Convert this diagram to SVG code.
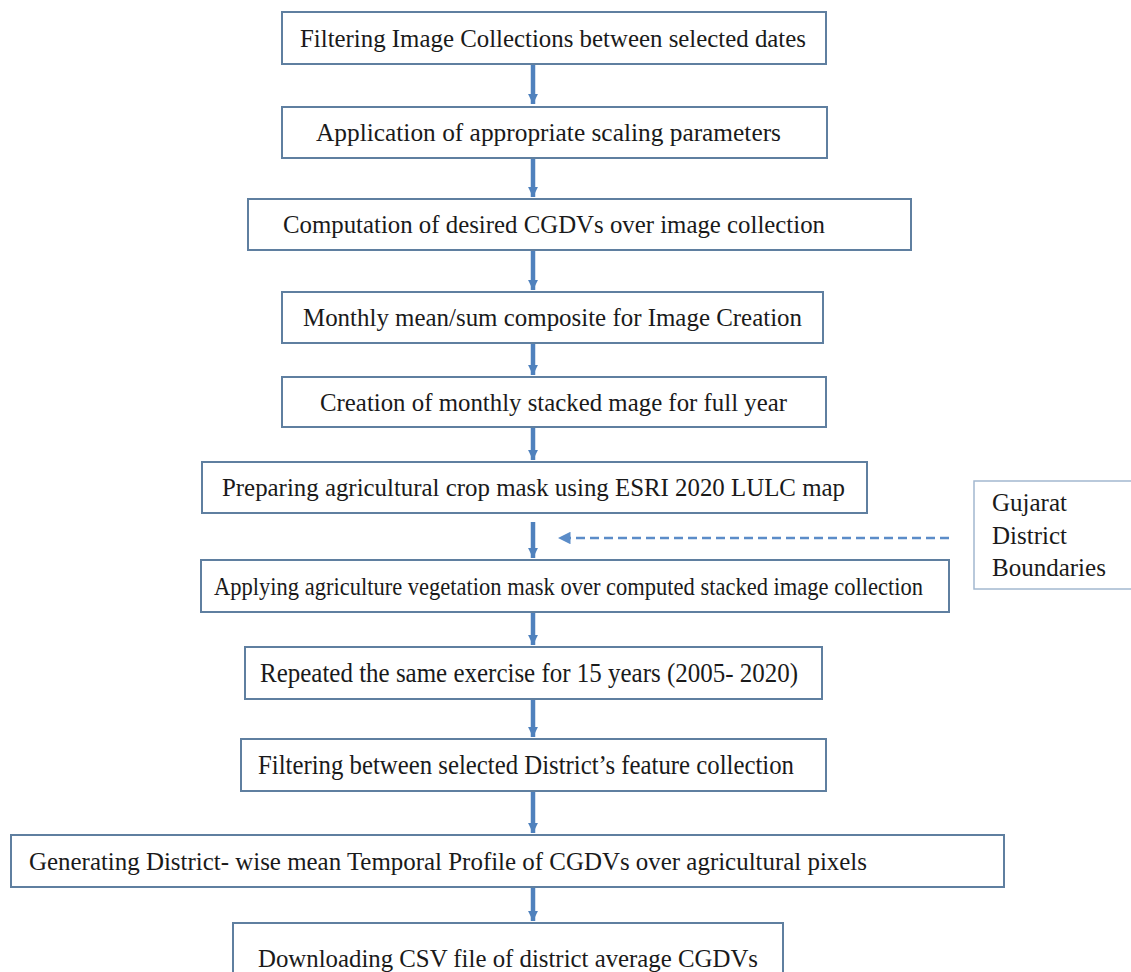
<svg xmlns="http://www.w3.org/2000/svg" width="1131" height="972" viewBox="0 0 1131 972">
<style>
.box{fill:#ffffff;stroke:#5f7fa0;stroke-width:2}
.side{fill:#ffffff;stroke:#a3b8cf;stroke-width:1.5}
.t{font-family:"Liberation Serif","Times New Roman",serif;font-size:25px;fill:#1a1a1a;text-anchor:middle}
.c{font-size:26.5px}
.s{font-family:"Liberation Serif","Times New Roman",serif;font-size:25px;fill:#1a1a1a}
.arr{stroke:#4f81bd;stroke-width:4.5;fill:none;marker-end:url(#ah)}
.dash{stroke:#5b8cc8;stroke-width:2.5;fill:none;stroke-dasharray:9 5;marker-end:url(#dh)}
</style>
<defs>
<marker id="ah" viewBox="0 0 10 10" refX="10" refY="5" markerWidth="2.4" markerHeight="2.2" markerUnits="strokeWidth" orient="auto">
<path d="M0,0 L10,5 L0,10 z" fill="#4f81bd"/>
</marker>
<marker id="dh" viewBox="0 0 10 10" refX="10" refY="5" markerWidth="5" markerHeight="5" markerUnits="strokeWidth" orient="auto">
<path d="M0,0 L10,5 L0,10 z" fill="#5b8cc8"/>
</marker>
</defs>
<rect width="1131" height="972" fill="#ffffff"/>
<g id="connectors">
<line class="arr" x1="533" y1="64" x2="533" y2="104"/>
<line class="arr" x1="533" y1="158" x2="533" y2="197"/>
<line class="arr" x1="533" y1="250" x2="533" y2="290"/>
<line class="arr" x1="533" y1="343" x2="533" y2="375"/>
<line class="arr" x1="533" y1="427" x2="533" y2="460"/>
<line class="arr" x1="533" y1="522" x2="533" y2="558"/>
<line class="arr" x1="533" y1="612" x2="533" y2="645"/>
<line class="arr" x1="533" y1="699" x2="533" y2="737"/>
<line class="arr" x1="533" y1="791" x2="533" y2="833"/>
<line class="arr" x1="533" y1="887" x2="533" y2="921"/>
<line class="dash" x1="949" y1="538" x2="558" y2="538"/>
</g>
<g id="n1"><rect class="box" x="282" y="12" width="544" height="52"/><text class="t" x="553" y="46.5" textLength="506" lengthAdjust="spacingAndGlyphs">Filtering Image Collections between selected dates</text></g>
<g id="n2"><rect class="box" x="282" y="107" width="545" height="51"/><text class="t" x="548.5" y="141" textLength="465" lengthAdjust="spacingAndGlyphs">Application of appropriate scaling parameters</text></g>
<g id="n3"><rect class="box" x="248" y="199" width="663" height="51"/><text class="t" x="554" y="233" textLength="542" lengthAdjust="spacingAndGlyphs">Computation of desired CGDVs over image collection</text></g>
<g id="n4"><rect class="box" x="282" y="292" width="541" height="51"/><text class="t" x="552.5" y="326" textLength="499" lengthAdjust="spacingAndGlyphs">Monthly mean/sum composite for Image Creation</text></g>
<g id="n5"><rect class="box" x="282" y="377" width="544" height="50"/><text class="t" x="553.5" y="410.5" textLength="467" lengthAdjust="spacingAndGlyphs">Creation of monthly stacked mage for full year</text></g>
<g id="n6"><rect class="box" x="202" y="462" width="665" height="51"/><text class="t" x="533.5" y="496" textLength="623" lengthAdjust="spacingAndGlyphs">Preparing agricultural crop mask using ESRI 2020 LULC map</text></g>
<g id="n7"><rect class="box" x="201" y="560" width="748" height="52"/><text class="t" x="568.5" y="594.5" textLength="709" lengthAdjust="spacingAndGlyphs">Applying agriculture vegetation mask over computed stacked image collection</text></g>
<g id="n8"><rect class="box" x="245" y="647" width="577" height="52"/><text class="t c" x="529" y="682" textLength="538" lengthAdjust="spacingAndGlyphs">Repeated the same exercise for 15 years (2005- 2020)</text></g>
<g id="n9"><rect class="box" x="241" y="739" width="585" height="52"/><text class="t c" x="526" y="774" textLength="536" lengthAdjust="spacingAndGlyphs">Filtering between selected District’s feature collection</text></g>
<g id="n10"><rect class="box" x="11" y="835" width="993" height="52"/><text class="t" x="448" y="869.5" textLength="838" lengthAdjust="spacingAndGlyphs">Generating District- wise mean Temporal Profile of CGDVs over agricultural pixels</text></g>
<g id="n11"><rect class="box" x="233" y="923" width="550" height="60"/><text class="t" x="508" y="966.5" textLength="500" lengthAdjust="spacingAndGlyphs">Downloading CSV file of district average CGDVs</text></g>
<g id="gujarat"><rect class="side" x="974" y="481" width="170" height="108"/>
<text class="s"><tspan x="992" y="511">Gujarat</tspan><tspan x="992" y="543.5">District</tspan><tspan x="992" y="576">Boundaries</tspan></text></g>
</svg>
